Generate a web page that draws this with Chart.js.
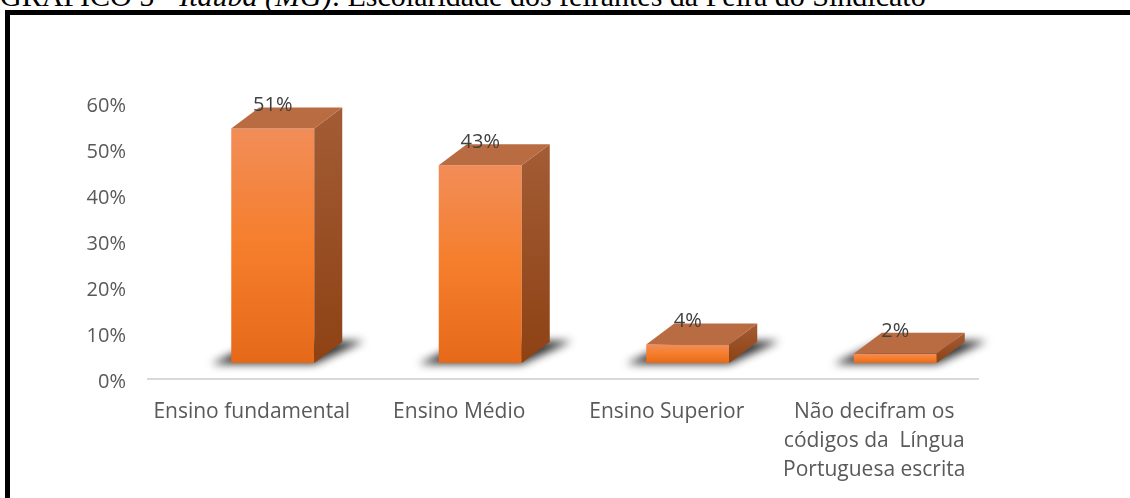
<!DOCTYPE html>
<html lang="pt-BR">
<head>
<meta charset="utf-8">
<title>Escolaridade dos feirantes da Feira do Sindicato</title>
<script src="https://cdn.jsdelivr.net/npm/chart.js@4"></script>
<style>
  html, body { margin: 0; padding: 0; background: #fff; overflow: hidden; }
  body { width: 1130px; height: 498px; position: relative; }
  #caption {
    position: absolute; left: 0; top: -19px;
    font: 30px "Liberation Serif", "Times New Roman", serif;
    line-height: 30px; white-space: nowrap; color: #000;
  }
  #frame {
    position: absolute; left: 5px; top: 10px; width: 1300px; height: 700px;
    border: 5px solid #000; box-sizing: border-box;
  }
  #wrap { position: absolute; left: 0; top: 0; width: 1130px; height: 498px; }
</style>
</head>
<body>
<div id="caption">GRÁFICO 5 - <i>Itaúba (MG)</i>: Escolaridade dos feirantes da Feira do Sindicato</div>
<div id="frame"></div>
<div id="wrap"><canvas id="escolaridade" width="1130" height="498"></canvas></div>
<script>
const categories = [
  'Ensino fundamental',
  'Ensino Médio',
  'Ensino Superior',
  ['Não decifram os', 'códigos da  Língua', 'Portuguesa escrita']
];
const shares = [51, 43, 4, 2];
const yTicks = [0, 10, 20, 30, 40, 50, 60];

const FONT = '"Open Sans", "Noto Sans", sans-serif';

// depth of each block and where the blocks stand on the floor
const DEPTH_X = 28, DEPTH_Y = 21;
const SHIFT_X = 21, SHIFT_Y = -16;

function frontGradient(context) {
  const chart = context.chart;
  if (!chart.chartArea) return '#F47B2A';
  const y = chart.scales.y;
  const top = y.getPixelForValue(shares[context.dataIndex]);
  const bottom = y.getPixelForValue(0);
  const g = chart.ctx.createLinearGradient(0, top, 0, bottom);
  g.addColorStop(0, '#F28D58');
  g.addColorStop(0.5, '#F57E2C');
  g.addColorStop(1, '#E6691A');
  return g;
}

const blocks3d = {
  id: 'blocks3d',
  beforeDatasetsDraw(chart) {
    const ctx = chart.ctx;
    const meta = chart.getDatasetMeta(0);
    // blurred floor shadows behind each block
    ctx.save();
    ctx.translate(SHIFT_X, SHIFT_Y);
    ctx.filter = 'blur(4px)';
    ctx.fillStyle = 'rgba(0, 0, 0, 0.8)';
    meta.data.forEach(bar => {
      const l = bar.x - bar.width / 2, r = bar.x + bar.width / 2, b = bar.base;
      ctx.beginPath();
      ctx.moveTo(l - 20, b + 1);
      ctx.lineTo(r, b + 1);
      ctx.lineTo(r + DEPTH_X + 22, b - DEPTH_Y - 1);
      ctx.lineTo(l + DEPTH_X, b - DEPTH_Y - 1);
      ctx.closePath();
      ctx.fill();
    });
    ctx.restore();
    ctx.save();
    ctx.translate(SHIFT_X, SHIFT_Y);
  },
  afterDatasetsDraw(chart) {
    const ctx = chart.ctx;
    const meta = chart.getDatasetMeta(0);
    meta.data.forEach((bar, i) => {
      const l = bar.x - bar.width / 2, r = bar.x + bar.width / 2;
      const t = bar.y, b = bar.base;
      // right side
      const sg = ctx.createLinearGradient(0, t - DEPTH_Y, 0, b);
      sg.addColorStop(0, '#A35C35');
      sg.addColorStop(1, '#8E4214');
      ctx.fillStyle = sg;
      ctx.beginPath();
      ctx.moveTo(r, t);
      ctx.lineTo(r + DEPTH_X, t - DEPTH_Y);
      ctx.lineTo(r + DEPTH_X, b - DEPTH_Y);
      ctx.lineTo(r, b);
      ctx.closePath();
      ctx.fill();
      // top
      ctx.fillStyle = '#B96B41';
      ctx.beginPath();
      ctx.moveTo(l, t);
      ctx.lineTo(r, t);
      ctx.lineTo(r + DEPTH_X, t - DEPTH_Y);
      ctx.lineTo(l + DEPTH_X, t - DEPTH_Y);
      ctx.closePath();
      ctx.fill();
      // value label
      ctx.fillStyle = '#404040';
      ctx.font = '20px ' + FONT;
      ctx.textAlign = 'center';
      ctx.textBaseline = 'middle';
      ctx.fillText(shares[i] + '%', bar.x, t - 23);
    });
    ctx.restore();
  }
};

new Chart(document.getElementById('escolaridade'), {
  type: 'bar',
  data: {
    labels: categories,
    datasets: [{
      data: shares,
      backgroundColor: frontGradient,
      borderWidth: 0,
      categoryPercentage: 1,
      barPercentage: 0.4,
      clip: false
    }]
  },
  options: {
    responsive: false,
    animation: false,
    layout: { padding: { left: 0, top: 103, right: 152, bottom: 0 } },
    plugins: { legend: { display: false }, tooltip: { enabled: false } },
    scales: {
      x: {
        grid: { display: false, drawTicks: false },
        border: { color: '#D9D9D9', width: 2 },
        ticks: {
          color: '#595959',
          font: { family: FONT, size: 21, lineHeight: 1.4 },
          padding: 18,
          maxRotation: 0,
          autoSkip: false
        },
        afterFit(scale) { scale.height = 119; }
      },
      y: {
        min: 0,
        max: 60,
        grid: { display: false, drawTicks: false },
        border: { display: false },
        afterBuildTicks(scale) { scale.ticks = yTicks.map(v => ({ value: v })); },
        ticks: {
          color: '#595959',
          // empty first line nudges the label a few pixels down onto its tick
          font: { family: FONT, size: 20, lineHeight: 0.35 },
          padding: 22,
          callback: v => ['', v + '%']
        },
        afterFit(scale) { scale.width = 148; }
      }
    }
  },
  plugins: [blocks3d]
});
</script>
</body>
</html>
